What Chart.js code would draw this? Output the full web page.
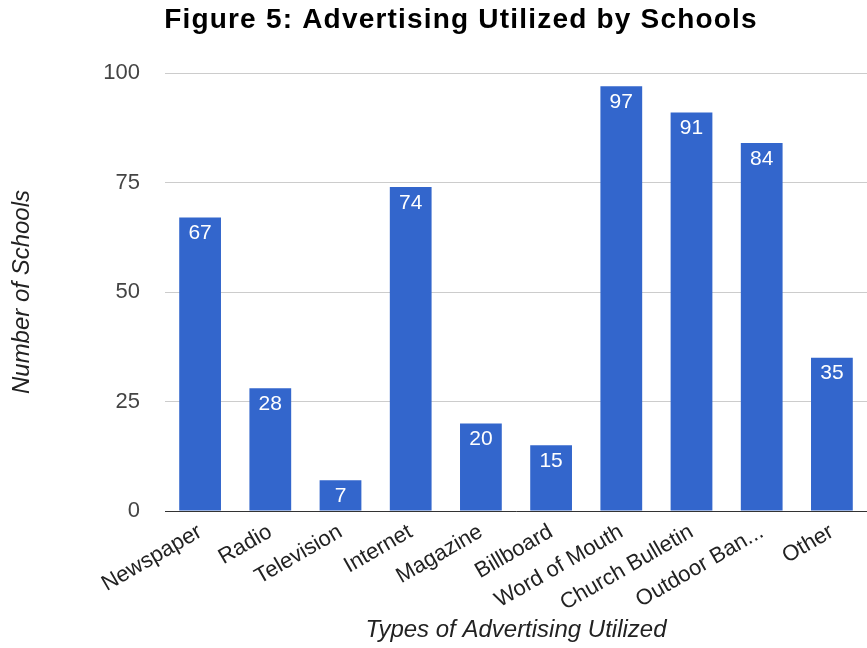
<!DOCTYPE html>
<html>
<head>
<meta charset="utf-8">
<script src="https://cdn.jsdelivr.net/npm/chart.js@4/dist/chart.umd.min.js"></script>
<style>
  html, body { margin: 0; padding: 0; background: #fff; }
  #wrap { width: 867px; height: 648px; position: relative; }
</style>
</head>
<body>
<div id="wrap"><canvas id="chart"></canvas></div>
<script>
"use strict";

const CATEGORIES = ["Newspaper", "Radio", "Television", "Internet", "Magazine",
  "Billboard", "Word of Mouth", "Church Bulletin", "Outdoor Ban...", "Other"];
const SCHOOLS = [67, 28, 7, 74, 20, 15, 97, 91, 84, 35];
const Y_TICKS = [0, 25, 50, 75, 100];

const TITLE = "Figure 5: Advertising Utilized by Schools";
const FONT = "'Liberation Sans', Arial, sans-serif";
const BAR_BLUE = "#3366CC";

// Title drawn at a fixed spot above the plot
const titlePlugin = {
  id: "figTitle",
  afterDraw(chart) {
    const ctx = chart.ctx;
    ctx.save();
    ctx.font = "bold 28px " + FONT;
    ctx.letterSpacing = "1.2px";
    ctx.fillStyle = "#000";
    ctx.textAlign = "center";
    ctx.textBaseline = "alphabetic";
    ctx.fillText(TITLE, 461, 28);
    ctx.restore();
  },
};

// Value labels in white, just inside the top of each bar
const valueLabels = {
  id: "valueLabels",
  afterDatasetsDraw(chart) {
    const ctx = chart.ctx;
    const meta = chart.getDatasetMeta(0);
    ctx.save();
    ctx.font = "21px " + FONT;
    ctx.fillStyle = "#fff";
    ctx.textAlign = "center";
    ctx.textBaseline = "middle";
    meta.data.forEach((bar, i) => {
      ctx.fillText(String(SCHOOLS[i]), bar.x, bar.y + 16);
    });
    ctx.restore();
  },
};

new Chart(document.getElementById("chart").getContext("2d"), {
  type: "bar",
  data: {
    labels: CATEGORIES,
    datasets: [{
      data: SCHOOLS,
      backgroundColor: BAR_BLUE,
      barPercentage: 0.595,
      categoryPercentage: 1.0,
    }],
  },
  options: {
    responsive: true,
    maintainAspectRatio: false,
    animation: false,
    layout: { padding: { top: 73, right: 0, left: 0, bottom: 0 } },
    plugins: {
      legend: { display: false },
      tooltip: { enabled: false },
      title: { display: false },
    },
    scales: {
      x: {
        grid: { display: false, drawTicks: false },
        border: { color: "#333", width: 1 },
        ticks: {
          color: "#222",
          font: { family: FONT, size: 22 },
          minRotation: 30,
          maxRotation: 30,
          autoSkip: false,
          padding: 8,
        },
        title: {
          display: true,
          text: "Types of Advertising Utilized",
          color: "#222",
          font: { family: FONT, size: 24, style: "italic" },
          padding: { top: 0, bottom: 3 },
        },
        afterFit(scale) { scale.height = 137; },
      },
      y: {
        min: 0,
        max: 100,
        afterBuildTicks(scale) { scale.ticks = Y_TICKS.map(v => ({ value: v })); },
        grid: { color: "#ccc", drawTicks: false },
        border: { display: false },
        ticks: {
          color: "#444",
          font: { family: FONT, size: 22 },
          padding: 25,
        },
        title: {
          display: true,
          text: "Number of Schools",
          color: "#222",
          font: { family: FONT, size: 24, style: "italic" },
          padding: { top: 8, bottom: 0 },
        },
        afterFit(scale) { scale.width = 165; },
      },
    },
  },
  plugins: [titlePlugin, valueLabels],
});
</script>
</body>
</html>
